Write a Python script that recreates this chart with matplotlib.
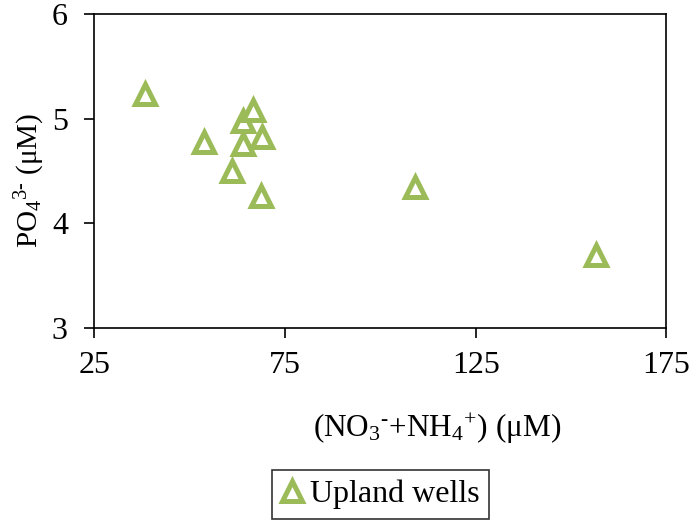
import matplotlib
matplotlib.use("Agg")
import matplotlib.pyplot as plt

# nutrient concentrations in upland wells
nitrogen = [38.4, 53.8, 61.2, 64.1, 64.1, 66.7, 68.9, 68.7, 109.0, 156.5]
phosphate = [5.24, 4.78, 4.50, 4.76, 4.98, 5.08, 4.83, 4.26, 4.35, 3.70]
series_name = "Upland wells"

x_ticks = [25, 75, 125, 175]
y_ticks = [3, 4, 5, 6]

plt.rcParams["font.family"] = ["Liberation Serif", "DejaVu Serif"]
plt.rcParams["mathtext.fontset"] = "custom"
plt.rcParams["mathtext.rm"] = "Liberation Serif"
plt.rcParams["mathtext.it"] = "Liberation Serif:italic"
plt.rcParams["font.size"] = 23

fig = plt.figure(figsize=(6.92, 5.25), dpi=100)
ax = fig.add_axes([0.1363, 0.3758, 0.963 - 0.1363, 0.9728 - 0.3758])

ax.plot(nitrogen, phosphate, linestyle="none", marker="^", markersize=14,
        markerfacecolor="white", markeredgecolor="#9BBB59", markeredgewidth=3.6,
        label=series_name)

ax.set_xlim(25, 175)
ax.set_ylim(3, 6)
ax.set_xticks(x_ticks)
ax.set_yticks(y_ticks)
ax.tick_params(direction="out", length=7, width=1.2, labelsize=23)
ax.tick_params(axis="x", pad=10)
ax.tick_params(axis="y", pad=12)
for s in ax.spines.values():
    s.set_linewidth(1.2)

ax.set_xlabel(r"(NO$\mathregular{_3{}^{\text{-}}}$+NH$\mathregular{_4{}^{+}}$) ($\mathregular{\mu}$M)",
              fontsize=22.5)
ax.xaxis.set_label_coords(0.599, -0.27)
ax.set_ylabel(r"PO$\mathregular{_4{}^{3\text{-}}}$ ($\mathregular{\mu}$M)", fontsize=21)
ax.yaxis.set_label_coords(-0.082, 0.47)

leg = ax.legend(loc="upper center", bbox_to_anchor=(0.5, -0.454), frameon=True,
                fancybox=False, edgecolor="black", fontsize=23, handlelength=0.7,
                handletextpad=0.2, borderpad=0.3, borderaxespad=0)
leg.get_frame().set_linewidth(1.2)

fig.savefig("out.png", dpi=100)
